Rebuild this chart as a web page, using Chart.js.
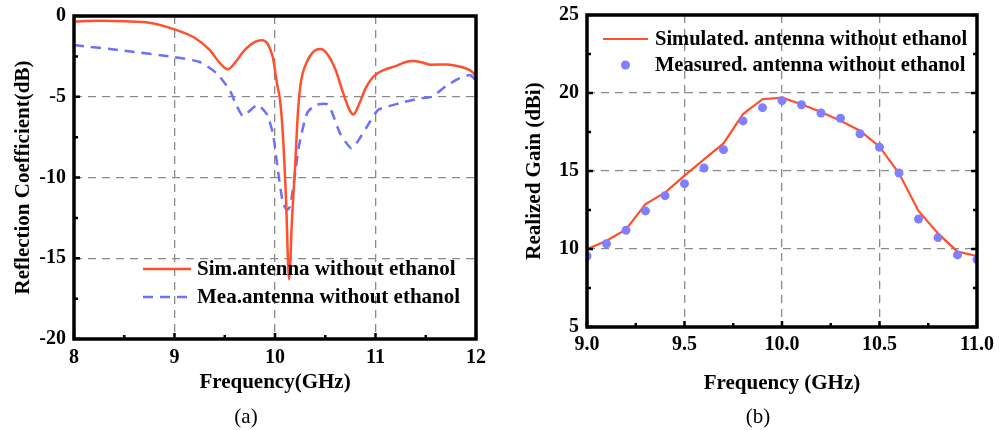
<!DOCTYPE html>
<html>
<head>
<meta charset="utf-8">
<script src="https://cdn.jsdelivr.net/npm/chart.js@4.4.1/dist/chart.umd.min.js"></script>
<style>
  body { margin: 0; background: #fff; }
  #wrap { position: relative; width: 1003px; height: 430px; }
  canvas { position: absolute; top: 0; }
  .cap { position: absolute; top: 404px; font: 21px 'Liberation Serif', 'Times New Roman', serif; color: #000; transform: translateX(-50%); }
</style>
</head>
<body>
<div id="wrap">
  <canvas id="reflChart" width="500" height="430" style="left:0"></canvas>
  <canvas id="gainChart" width="503" height="430" style="left:500px"></canvas>
  <div class="cap" style="left:246px">(a)</div>
  <div class="cap" style="left:758px">(b)</div>
</div>
<script>
// (a) reflection coefficient
const simFreq = [8.0, 8.25, 8.5, 8.75, 9.0, 9.2, 9.35, 9.45, 9.53, 9.6, 9.7, 9.8, 9.87, 9.93, 9.98, 10.02, 10.05, 10.08, 10.11, 10.14, 10.17, 10.2, 10.23, 10.26, 10.3, 10.37, 10.45, 10.52, 10.6, 10.68, 10.74, 10.78, 10.84, 10.9, 10.96, 11.02, 11.1, 11.2, 11.3, 11.37, 11.45, 11.55, 11.7, 11.8, 11.9, 11.96, 12.0];
const simRefl = [-0.35, -0.3, -0.33, -0.42, -0.83, -1.35, -2.1, -2.9, -3.3, -2.9, -2.1, -1.6, -1.5, -1.75, -2.6, -4.2, -5.2, -7.5, -11.4, -16.3, -12.5, -9.3, -5.8, -4.0, -3.1, -2.3, -2.05, -2.35, -3.3, -4.8, -5.8, -6.1, -5.4, -4.5, -3.9, -3.55, -3.3, -3.1, -2.85, -2.78, -2.85, -3.02, -3.0, -3.08, -3.25, -3.45, -3.75];
const meaFreq = [8.0, 8.5, 9.0, 9.25, 9.42, 9.55, 9.6, 9.68, 9.76, 9.83, 9.92, 9.98, 10.03, 10.08, 10.12, 10.15, 10.19, 10.24, 10.32, 10.41, 10.53, 10.65, 10.76, 10.83, 10.95, 11.03, 11.24, 11.44, 11.56, 11.71, 11.84, 11.94, 12.0];
const meaRefl = [-1.8, -2.15, -2.55, -2.85, -3.55, -4.6, -5.3, -6.2, -5.8, -5.5, -6.1, -7.3, -9.6, -11.6, -12.0, -11.8, -10.2, -8.0, -6.0, -5.5, -5.5, -7.3, -8.2, -7.7, -6.5, -5.8, -5.4, -5.1, -5.0, -4.3, -3.85, -3.65, -4.0];

// (b) realized gain
const gainFreq = [9.0, 9.1, 9.2, 9.3, 9.4, 9.5, 9.6, 9.7, 9.8, 9.9, 10.0, 10.1, 10.2, 10.3, 10.4, 10.5, 10.6, 10.7, 10.8, 10.9, 11.0];
const simGain = [9.98, 10.53, 11.26, 12.88, 13.61, 14.7, 15.75, 16.77, 18.65, 19.6, 19.7, 19.28, 18.78, 18.22, 17.58, 16.56, 14.85, 12.44, 11.0, 9.83, 9.55];
const meaGain = [9.55, 10.34, 11.2, 12.44, 13.42, 14.19, 15.19, 16.37, 18.21, 19.06, 19.51, 19.25, 18.72, 18.38, 17.39, 16.52, 14.87, 11.92, 10.73, 9.62, 9.32];

const SERIF = "'Liberation Serif', 'Times New Roman', serif";
const RED = 'rgb(255, 80, 45)';
const BLUE = 'rgb(110, 110, 255)';
const DOT = 'rgb(128, 128, 255)';

const pts = (xs, ys) => xs.map((x, i) => ({ x: x, y: ys[i] }));

// inward ticks, frame and an inside legend
const framePlugin = {
    id: 'frame',
    afterDraw(chart, args, opts) {
        const { ctx, chartArea: a, scales } = chart;
        const xs = scales.x, ys = scales.y;
        ctx.save();
        ctx.strokeStyle = '#000';
        ctx.lineWidth = 2.5;
        const mids = (ticks) => {
            const v = ticks.map(t => t.value), m = [];
            for (let i = 0; i < v.length - 1; i++) m.push((v[i] + v[i + 1]) / 2);
            return { major: v, minor: m };
        };
        const tx = mids(xs.ticks), ty = mids(ys.ticks);
        ctx.beginPath();
        tx.major.forEach(v => { const p = xs.getPixelForValue(v); ctx.moveTo(p, a.bottom); ctx.lineTo(p, a.bottom - 6); });
        tx.minor.forEach(v => { const p = xs.getPixelForValue(v); ctx.moveTo(p, a.bottom); ctx.lineTo(p, a.bottom - 4); });
        ty.major.forEach(v => { const p = ys.getPixelForValue(v); ctx.moveTo(a.left, p); ctx.lineTo(a.left + 6, p); });
        ty.minor.forEach(v => { const p = ys.getPixelForValue(v); ctx.moveTo(a.left, p); ctx.lineTo(a.left + 4, p); });
        if (opts.rightTicks) {
            ty.major.forEach(v => { const p = ys.getPixelForValue(v); ctx.moveTo(a.right, p); ctx.lineTo(a.right - 6, p); });
            ty.minor.forEach(v => { const p = ys.getPixelForValue(v); ctx.moveTo(a.right, p); ctx.lineTo(a.right - 4, p); });
        }
        ctx.stroke();
        ctx.lineWidth = 3.5;
        ctx.strokeRect(a.left, a.top, a.right - a.left, a.bottom - a.top);

        // legend
        const lg = opts.legend;
        ctx.font = 'bold ' + lg.size + 'px ' + SERIF;
        ctx.textBaseline = 'middle';
        ctx.fillStyle = '#000';
        chart.data.datasets.forEach((ds, i) => {
            const x0 = a.left + lg.x, y0 = a.top + lg.y + i * lg.gap;
            if (ds.showLine === false) {
                ctx.beginPath();
                ctx.fillStyle = ds.backgroundColor;
                ctx.arc(x0 + lg.len / 2, y0, ds.pointRadius, 0, Math.PI * 2);
                ctx.fill();
                ctx.fillStyle = '#000';
            } else {
                ctx.beginPath();
                ctx.strokeStyle = ds.borderColor;
                ctx.lineWidth = ds.borderWidth;
                ctx.setLineDash(ds.borderDash || []);
                ctx.moveTo(x0, y0);
                ctx.lineTo(x0 + lg.len, y0);
                ctx.stroke();
                ctx.setLineDash([]);
            }
            ctx.fillText(ds.label, x0 + lg.len + lg.pad, y0 + 1);
        });
        ctx.restore();
    }
};

function axisX(min, max, step, title, tickPad, height, fmt) {
    return {
        type: 'linear', min: min, max: max,
        ticks: { stepSize: step, padding: tickPad, color: '#000', font: { family: SERIF, size: 20, weight: 'bold' }, callback: fmt },
        grid: { color: '#8a8a8a', lineWidth: 1.3, drawTicks: false },
        border: { display: false, dash: [8, 6] },
        title: { display: true, text: title, color: '#000', padding: 0, font: { family: SERIF, size: 21, weight: 'bold' } },
        afterFit: (s) => { s.height = height; s.paddingLeft = 0; s.paddingRight = 0; }
    };
}

function axisY(min, max, step, title, tickPad, titlePad, width) {
    return {
        min: min, max: max,
        ticks: { stepSize: step, padding: tickPad, color: '#000', font: { family: SERIF, size: 20, weight: 'bold' } },
        grid: { color: '#8a8a8a', lineWidth: 1.3, drawTicks: false },
        border: { display: false, dash: [8, 6] },
        title: { display: true, text: title, color: '#000', padding: { top: titlePad, bottom: 0 }, font: { family: SERIF, size: 21, weight: 'bold' } },
        afterFit: (s) => { s.width = width; s.paddingTop = 0; s.paddingBottom = 0; }
    };
}

new Chart(document.getElementById('reflChart').getContext('2d'), {
    type: 'line',
    data: {
        datasets: [{
            label: 'Sim.antenna without ethanol',
            data: pts(simFreq, simRefl),
            borderColor: RED,
            borderWidth: 2.5,
            pointRadius: 0,
            cubicInterpolationMode: 'monotone',
            fill: false
        }, {
            label: 'Mea.antenna without ethanol',
            data: pts(meaFreq, meaRefl),
            borderColor: BLUE,
            borderWidth: 2.5,
            borderDash: [10, 7],
            pointRadius: 0,
            tension: 0.2,
            fill: false
        }]
    },
    options: {
        responsive: false,
        animation: false,
        layout: { padding: { left: 0, right: 24, top: 16, bottom: 34.4 } },
        scales: {
            x: axisX(8, 12, 1, 'Frequency(GHz)', 7, 56.6),
            y: axisY(-20, 0, 5, 'Reflection Coefficient(dB)', 8, 11.4, 74)
        },
        plugins: {
            legend: { display: false },
            tooltip: { enabled: false },
            frame: { rightTicks: false, legend: { x: 69, y: 253, gap: 28, len: 48, pad: 6, size: 21 } }
        }
    },
    plugins: [framePlugin]
});

new Chart(document.getElementById('gainChart').getContext('2d'), {
    type: 'line',
    data: {
        datasets: [{
            label: 'Simulated. antenna without ethanol',
            data: pts(gainFreq, simGain),
            borderColor: RED,
            borderWidth: 2.2,
            pointRadius: 0,
            tension: 0,
            order: 1,
            fill: false
        }, {
            label: 'Measured. antenna without ethanol',
            data: pts(gainFreq, meaGain),
            showLine: false,
            backgroundColor: DOT,
            borderWidth: 0,
            pointRadius: 4.5,
            clip: 0,
            order: 0
        }]
    },
    options: {
        responsive: false,
        animation: false,
        layout: { padding: { left: 0, right: 26, top: 15, bottom: 33.4 } },
        scales: {
            x: axisX(9, 11, 0.5, 'Frequency (GHz)', 6, 69.6, v => v.toFixed(1)),
            y: axisY(5, 25, 5, 'Realized Gain (dBi)', 8, 22.4, 87)
        },
        plugins: {
            legend: { display: false },
            tooltip: { enabled: false },
            frame: { rightTicks: true, legend: { x: 16, y: 24, gap: 26, len: 45, pad: 7, size: 20.5 } }
        }
    },
    plugins: [framePlugin]
});
</script>
</body>
</html>
